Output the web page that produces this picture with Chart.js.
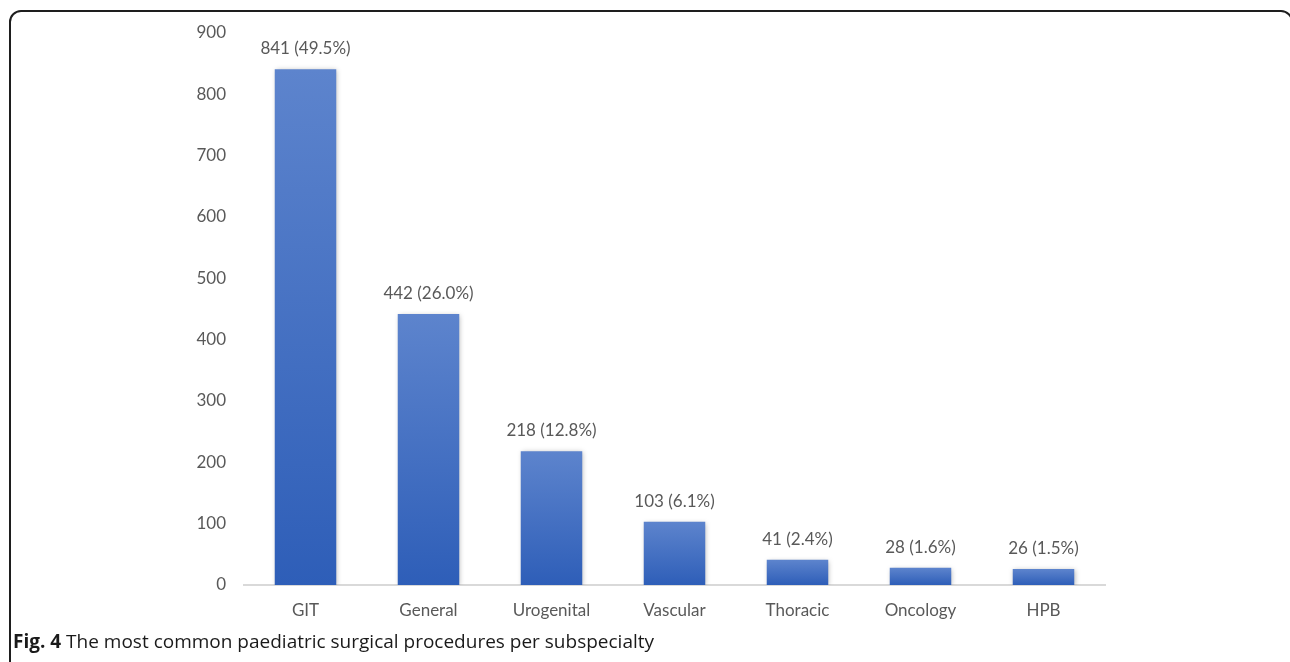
<!DOCTYPE html>
<html>
<head>
<meta charset="utf-8">
<script src="https://cdn.jsdelivr.net/npm/chart.js@4.4.1/dist/chart.umd.min.js"></script>
<style>
  html, body { margin: 0; padding: 0; background: #fff; }
  body { width: 1290px; height: 662px; position: relative; overflow: hidden; }
  #frame {
    position: absolute; left: 9px; top: 10px; width: 1284px; height: 700px;
    border: 2px solid #1e1e1e; border-radius: 12px; box-sizing: border-box;
  }
  #wrap { position: absolute; left: 0; top: 0; width: 1290px; height: 662px; }
  #caption {
    position: absolute; left: 13px; top: 628px; font-family: "Open Sans", sans-serif;
    font-size: 19px; color: #1a1a1a; white-space: nowrap;
  }
  #caption b { font-weight: 700; }
</style>
</head>
<body>
<div id="frame"></div>
<div id="wrap"><canvas id="procChart"></canvas></div>
<div id="caption"><b>Fig. 4</b> The most common paediatric surgical procedures per subspecialty</div>

<script>
const subspecialties = ['GIT', 'General', 'Urogenital', 'Vascular', 'Thoracic', 'Oncology', 'HPB'];
const procedureCounts = [841, 442, 218, 103, 41, 28, 26];
const procedureShares = ['49.5%', '26.0%', '12.8%', '6.1%', '2.4%', '1.6%', '1.5%'];
const yTicks = [0, 100, 200, 300, 400, 500, 600, 700, 800, 900];

const labelFont = { family: 'Lato, "Open Sans", sans-serif', size: 17 };
const textGrey = '#595959';

// vertical gradient per bar, light at the top and darker at the base
function barGradient(context) {
    const chart = context.chart;
    const yScale = chart.scales.y;
    if (!yScale || context.raw === undefined) return '#4472c4';
    const top = yScale.getPixelForValue(context.raw);
    const bottom = yScale.getPixelForValue(0);
    if (!isFinite(top) || !isFinite(bottom) || top === bottom) return '#4472c4';
    const g = chart.ctx.createLinearGradient(0, top, 0, bottom);
    g.addColorStop(0, '#5d84cd');
    g.addColorStop(1, '#2e5eb8');
    return g;
}

// soft grey shadow around the bars
const barShadow = {
    id: 'barShadow',
    beforeDatasetDraw(chart) {
        const ctx = chart.ctx;
        ctx.save();
        ctx.shadowColor = 'rgba(0,0,0,0.28)';
        ctx.shadowBlur = 5;
        ctx.shadowOffsetX = 1;
        ctx.shadowOffsetY = 1;
    },
    afterDatasetDraw(chart) {
        chart.ctx.restore();
    }
};

// "count (share)" written above each bar
const valueLabels = {
    id: 'valueLabels',
    afterDatasetsDraw(chart) {
        const ctx = chart.ctx;
        const meta = chart.getDatasetMeta(0);
        ctx.save();
        ctx.font = labelFont.size + 'px ' + labelFont.family;
        ctx.fillStyle = textGrey;
        ctx.textAlign = 'center';
        ctx.textBaseline = 'alphabetic';
        meta.data.forEach((bar, i) => {
            ctx.fillText(procedureCounts[i] + ' (' + procedureShares[i] + ')', bar.x, bar.y - 15);
        });
        ctx.restore();
    }
};

new Chart(document.getElementById('procChart'), {
    type: 'bar',
    data: {
        labels: subspecialties,
        datasets: [{
            data: procedureCounts,
            backgroundColor: barGradient,
            borderWidth: 0,
            barPercentage: 0.5,
            categoryPercentage: 1.0
        }]
    },
    options: {
        responsive: true, maintainAspectRatio: false, animation: false,
        layout: { padding: { top: 33, right: 185, bottom: 0, left: 0 } },
        plugins: { legend: { display: false }, tooltip: { enabled: false } },
        scales: {
            x: {
                grid: { display: false },
                border: { display: true, color: '#d9d9d9', width: 2 },
                ticks: { color: textGrey, font: labelFont, padding: 7 },
                afterFit(scale) { scale.height = 77; }
            },
            y: {
                min: 0, max: 900,
                afterBuildTicks(scale) { scale.ticks = yTicks.map(v => ({ value: v })); },
                grid: { display: false, drawTicks: false },
                border: { display: false },
                ticks: { color: textGrey, font: labelFont, padding: 18 },
                afterFit(scale) { scale.width = 244; }
            }
        }
    },
    plugins: [barShadow, valueLabels]
});
</script>
</body>
</html>
